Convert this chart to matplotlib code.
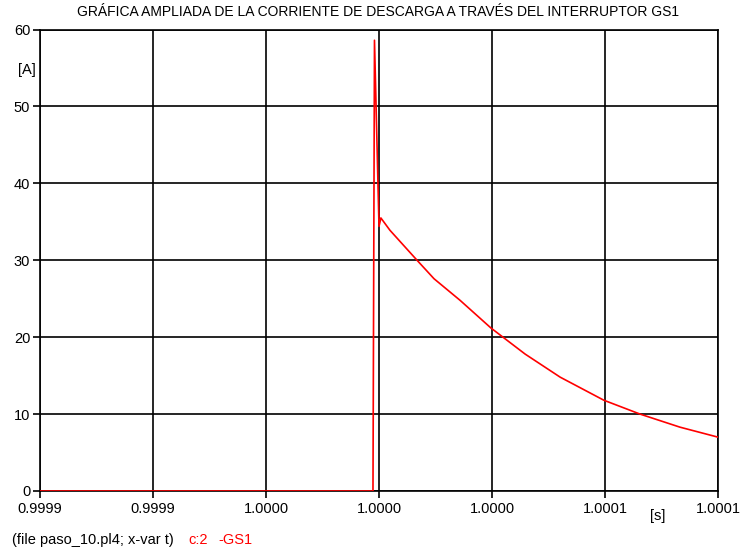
import matplotlib
matplotlib.use('Agg')
import matplotlib.pyplot as plt

plt.rcParams['font.family'] = ['Liberation Sans', 'DejaVu Sans']

# Current through switch GS1
t_s = [0.99991, 0.9999984, 0.9999988, 1.0000000, 1.0000005, 1.0000029,
       1.0000101, 1.0000146, 1.0000215, 1.0000297, 1.0000388, 1.0000481,
       1.0000597, 1.0000693, 1.0000799, 1.00009]
i_gs1 = [0.0, 0.0, 58.6, 34.4, 35.5, 33.9,
         30.0, 27.6, 24.8, 21.2, 17.8, 14.8,
         11.8, 10.0, 8.3, 7.0]

x_ticks = [0.99991, 0.99994, 0.99997, 1.00000, 1.00003, 1.00006, 1.00009]
x_labels = ['0.9999', '0.9999', '1.0000', '1.0000', '1.0000', '1.0001', '1.0001']
y_ticks = [0, 10, 20, 30, 40, 50, 60]

fig = plt.figure(figsize=(7.41, 5.5), dpi=100)
ax = fig.add_axes([40 / 741, 59 / 550, 678 / 741, 461.5 / 550])

ax.plot(t_s, i_gs1, color='red', lw=1.2, zorder=3)

ax.set_xlim(x_ticks[0], x_ticks[-1])
ax.set_ylim(0, 60)
ax.set_xticks(x_ticks)
ax.set_xticklabels(x_labels)
ax.set_yticks(y_ticks)
ax.grid(True, color='black', lw=1.2)
for s in ax.spines.values():
    s.set_linewidth(1.2)
ax.tick_params(axis='both', labelsize=10.5, length=5, width=1.2, pad=2)
ax.tick_params(axis='x', pad=3)

fig.text(378 / 741, 1 - 12 / 550, 'GRÁFICA AMPLIADA DE LA CORRIENTE DE DESCARGA A TRAVÉS DEL INTERRUPTOR GS1',
         ha='center', va='center', fontsize=10)
fig.text(27 / 741, 1 - 70 / 550, '[A]', ha='center', va='center', fontsize=10.5)
fig.text(658 / 741, 1 - 516 / 550, '[s]', ha='center', va='center', fontsize=10.5)
fig.text(12 / 741, 1 - 540 / 550, '(file paso_10.pl4; x-var t)', ha='left', va='center', fontsize=10.5)
fig.text(188 / 741, 1 - 540 / 550, 'c:2', ha='left', va='center', fontsize=10.5, color='red')
fig.text(218 / 741, 1 - 540 / 550, '-GS1', ha='left', va='center', fontsize=10.5, color='red')

fig.savefig('out.png', dpi=100)
